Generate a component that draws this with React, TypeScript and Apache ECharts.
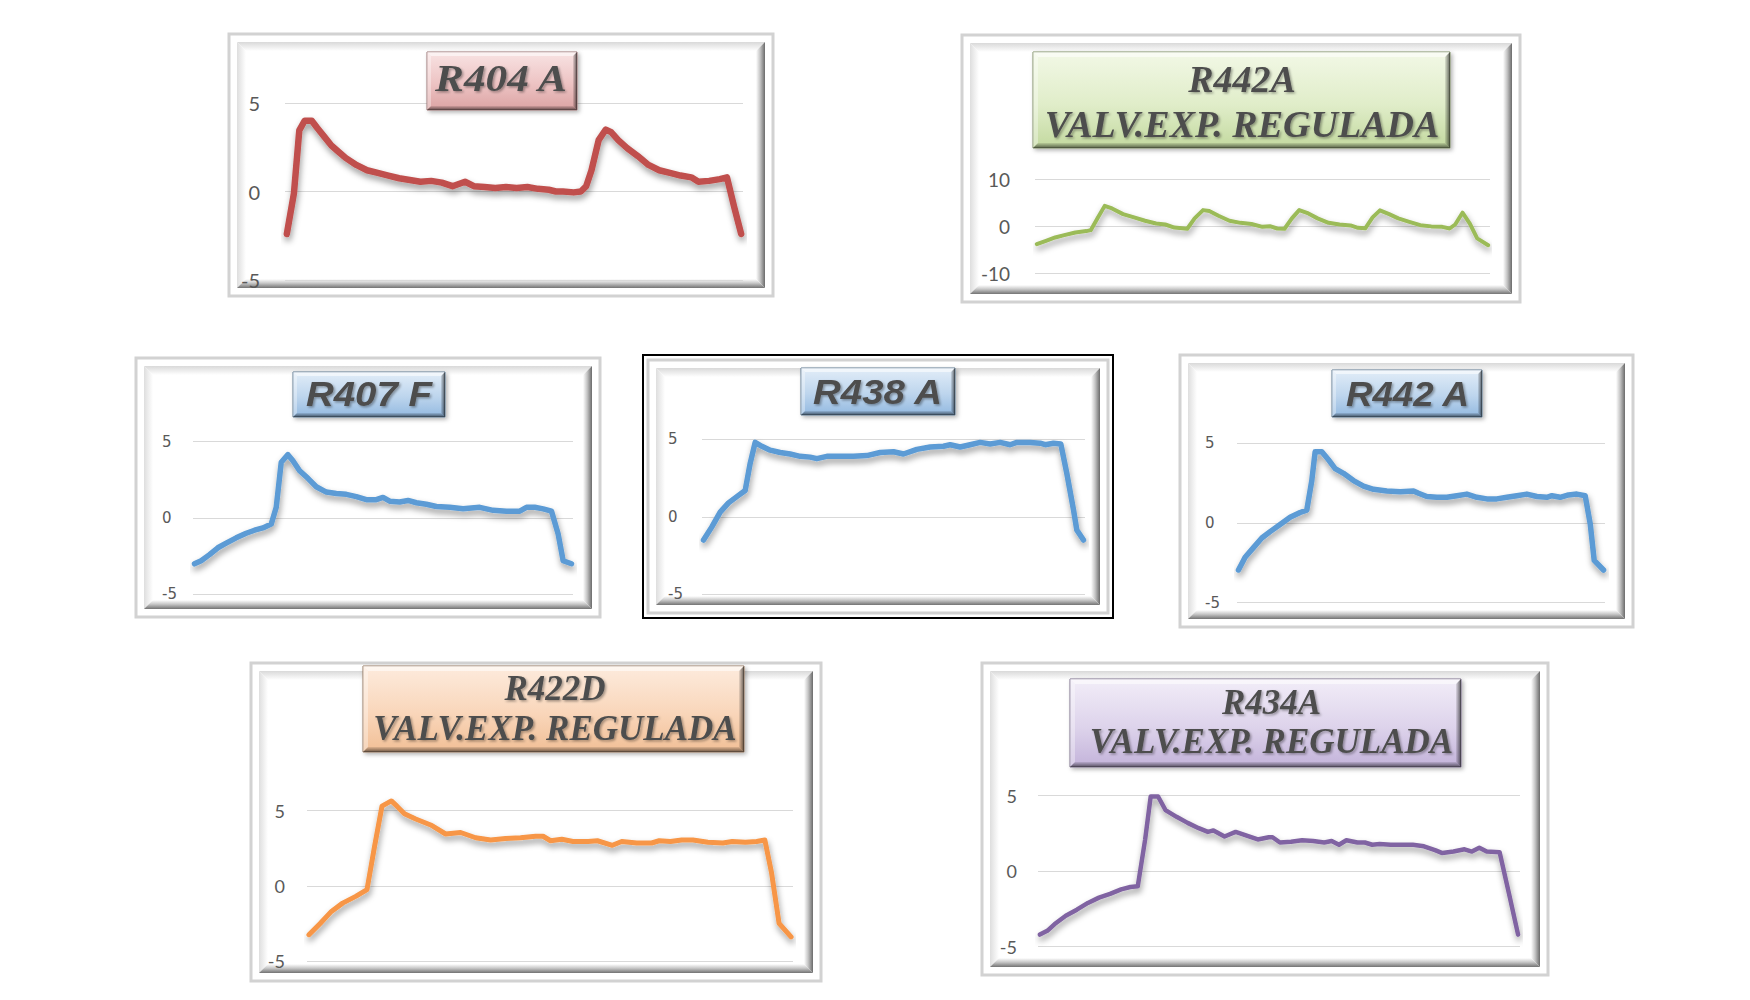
import React, { useEffect, useRef } from "react";
import * as echarts from "echarts";

// ---------- DATA ----------
// Elapsed-time samples and temperature-difference values for each refrigerant test
const r404aTime = [0, 20, 35, 50, 70, 85, 105, 125, 145, 165, 195, 225, 255, 285, 315, 345, 375, 405, 435, 465, 500, 525, 555, 585, 615, 645, 675, 705, 735, 755, 775, 805, 825, 840, 855, 875, 895, 910, 930, 955, 985, 1015, 1045, 1075, 1105, 1135, 1155, 1185, 1215, 1235, 1255, 1275];
const r404aValue = [-2.4, -0.1, 3.45, 4.0, 4.0, 3.6, 3.1, 2.6, 2.25, 1.9, 1.5, 1.2, 1.05, 0.9, 0.75, 0.65, 0.55, 0.6, 0.5, 0.3, 0.55, 0.3, 0.25, 0.2, 0.25, 0.2, 0.25, 0.15, 0.1, 0, 0, -0.05, 0, 0.3, 1.2, 2.9, 3.5, 3.35, 2.9, 2.45, 2.0, 1.5, 1.2, 1.05, 0.9, 0.8, 0.55, 0.6, 0.7, 0.8, -0.85, -2.4];

const r442aValvTime = [0, 25, 50, 75, 105, 135, 147, 165, 185, 205, 235, 265, 295, 325, 350, 375, 410, 430, 453, 470, 495, 525, 555, 585, 615, 635, 655, 675, 695, 715, 740, 765, 795, 825, 855, 875, 895, 915, 935, 960, 985, 1015, 1045, 1075, 1105, 1125, 1140, 1160, 1180, 1200, 1230];
const r442aValvValue = [-3.8, -3.1, -2.4, -1.9, -1.35, -1.05, -0.85, 1.6, 4.3, 3.75, 2.55, 1.85, 1.15, 0.55, 0.35, -0.3, -0.55, 1.65, 3.4, 3.2, 2.2, 1.15, 0.7, 0.45, -0.15, 0, -0.5, -0.55, 1.65, 3.4, 2.7, 1.65, 0.7, 0.35, 0.15, -0.35, -0.45, 1.85, 3.35, 2.55, 1.65, 0.9, 0.2, -0.05, -0.15, -0.5, 0.35, 2.85, 0.55, -2.6, -4.05];

const r407fTime = [0, 20, 45, 70, 95, 125, 155, 180, 205, 230, 245, 260, 280, 295, 315, 340, 365, 395, 425, 455, 485, 515, 545, 565, 585, 615, 640, 665, 695, 725, 765, 805, 855, 895, 935, 975, 995, 1020, 1045, 1070, 1090, 1105, 1130];
const r407fValue = [-3.0, -2.8, -2.4, -1.95, -1.65, -1.3, -1.0, -0.8, -0.65, -0.4, 0.7, 3.65, 4.15, 3.75, 3.1, 2.6, 2.05, 1.7, 1.6, 1.55, 1.4, 1.2, 1.2, 1.35, 1.1, 1.05, 1.15, 1.0, 0.9, 0.75, 0.7, 0.6, 0.7, 0.5, 0.45, 0.45, 0.7, 0.7, 0.6, 0.45, -1.05, -2.8, -3.0];

const r438aTime = [0, 25, 50, 75, 100, 125, 140, 155, 175, 200, 230, 260, 290, 320, 340, 370, 410, 450, 490, 530, 570, 600, 640, 680, 720, 740, 770, 800, 830, 860, 890, 920, 940, 980, 1010, 1025, 1050, 1072, 1090, 1110, 1120, 1140];
const r438aValue = [-1.5, -0.65, 0.3, 0.9, 1.3, 1.7, 3.45, 4.8, 4.55, 4.3, 4.15, 4.05, 3.9, 3.85, 3.75, 3.9, 3.9, 3.9, 3.95, 4.15, 4.2, 4.05, 4.35, 4.5, 4.55, 4.65, 4.5, 4.65, 4.8, 4.7, 4.8, 4.65, 4.8, 4.8, 4.75, 4.65, 4.75, 4.7, 2.8, 0.45, -0.85, -1.5];

const r442aTime = [0, 20, 45, 70, 95, 125, 155, 185, 205, 220, 230, 250, 270, 290, 315, 345, 375, 405, 445, 485, 525, 540, 565, 595, 625, 655, 685, 715, 745, 775, 805, 835, 865, 895, 925, 940, 965, 990, 1015, 1040, 1055, 1067, 1095];
const r442aValue = [-2.95, -2.15, -1.55, -0.95, -0.55, -0.1, 0.35, 0.65, 0.8, 2.65, 4.45, 4.45, 3.95, 3.4, 3.1, 2.65, 2.3, 2.1, 2.0, 1.95, 2.0, 1.85, 1.65, 1.6, 1.6, 1.7, 1.8, 1.6, 1.5, 1.5, 1.6, 1.7, 1.8, 1.65, 1.6, 1.7, 1.6, 1.75, 1.8, 1.7, -0.05, -2.35, -2.95];

const r422dTime = [0, 30, 60, 90, 125, 155, 175, 195, 220, 235, 255, 285, 325, 365, 405, 445, 485, 525, 565, 605, 625, 645, 675, 705, 745, 770, 810, 835, 875, 915, 935, 965, 995, 1025, 1065, 1105, 1130, 1165, 1195, 1217, 1235, 1255, 1287];
const r422dValue = [-3.25, -2.5, -1.7, -1.15, -0.7, -0.25, 2.6, 5.3, 5.65, 5.3, 4.8, 4.45, 4.05, 3.45, 3.55, 3.2, 3.05, 3.15, 3.2, 3.3, 3.3, 3.0, 3.1, 2.95, 2.95, 3.0, 2.7, 2.95, 2.85, 2.85, 3.0, 2.95, 3.05, 3.05, 2.9, 2.85, 2.95, 2.9, 2.95, 3.05, 0.85, -2.5, -3.4];

const r434aTime = [0, 20, 40, 70, 100, 130, 160, 190, 220, 245, 265, 285, 300, 320, 340, 370, 400, 430, 455, 470, 500, 530, 560, 590, 620, 630, 650, 680, 710, 740, 770, 790, 810, 830, 860, 880, 900, 920, 950, 980, 1010, 1040, 1070, 1090, 1120, 1150, 1170, 1190, 1210, 1245, 1270, 1295];
const r434aValue = [-4.2, -3.95, -3.5, -2.95, -2.55, -2.1, -1.75, -1.5, -1.2, -1.05, -1.0, 2.1, 4.95, 4.95, 4.05, 3.6, 3.2, 2.85, 2.6, 2.7, 2.3, 2.6, 2.35, 2.1, 2.25, 2.25, 1.9, 1.95, 2.05, 2.0, 1.9, 2.0, 1.75, 2.05, 1.9, 1.9, 1.75, 1.8, 1.75, 1.75, 1.75, 1.65, 1.4, 1.2, 1.3, 1.45, 1.3, 1.55, 1.3, 1.25, -1.45, -4.2];

// Tick labels of the value axes
const ticksFive = [-5, 0, 5];
const ticksTen = [-10, 0, 10];

// Titles
const titleR404A = "R404 A";
const titleR442AValv = "R442A\nVALV.EXP. REGULADA";
const titleR407F = "R407 F";
const titleR438A = "R438 A";
const titleR442A = "R442 A";
const titleR422D = "R422D\nVALV.EXP. REGULADA";
const titleR434A = "R434A\nVALV.EXP. REGULADA";

// ---------- LAYOUT / STYLE ----------
type Theme = { top: string; mid: string; bottom: string; edge: string };
const themes: Record<string, Theme> = {
  rose: { top: "#f8e3e3", mid: "#edc3c3", bottom: "#dba3a3", edge: "#9a7373" },
  green: { top: "#f2f8e6", mid: "#e0edc9", bottom: "#c3d99f", edge: "#7d8c63" },
  blue: { top: "#e2edf8", mid: "#bdd5ed", bottom: "#93b9e0", edge: "#5d7891" },
  peach: { top: "#fdebdd", mid: "#f9d6ba", bottom: "#f1bf96", edge: "#93775f" },
  lilac: { top: "#f2edf8", mid: "#ddd3eb", bottom: "#c3b3da", edge: "#7b6f8b" },
};

const SERIF = '"Liberation Serif", "Times New Roman", serif';
const SANS = '"Liberation Sans", Arial, sans-serif';

const panels = [
  {
    title: titleR404A, time: r404aTime, values: r404aValue, ticks: ticksFive, color: "#C0504D", lw: 6.5,
    frame: [229, 34, 544, 262], boxed: false, grid: [285, 103, 458, 177],
    box: [427, 52, 150, 58], theme: "rose", bevel: 4,
    tx: 501, ty: 78, tFont: SERIF, tSize: 38, tLH: 40, tScale: 1.14,
    lSize: 20, lFont: "Lato, sans-serif", lAlign: "right", lMargin: 25,
  },
  {
    title: titleR442AValv, time: r442aValvTime, values: r442aValvValue, ticks: ticksTen, color: "#9BBB59", lw: 4,
    frame: [962, 35, 558, 267], boxed: false, grid: [1035, 179, 455, 94.3],
    box: [1033, 52, 417, 96], theme: "green", bevel: 5,
    tx: 1242, ty: 101.5, tFont: SERIF, tSize: 38, tLH: 45, tScale: 1,
    lSize: 19, lFont: "Lato, sans-serif", lAlign: "right", lMargin: 25,
  },
  {
    title: titleR407F, time: r407fTime, values: r407fValue, ticks: ticksFive, color: "#5B9BD5", lw: 5.5,
    frame: [136, 358, 464, 259], boxed: false, grid: [193, 441.7, 380, 152.6],
    box: [293, 372, 152, 45], theme: "blue", bevel: 4,
    tx: 369, ty: 394.5, tFont: SANS, tSize: 35, tLH: 40, tScale: 1.1,
    lSize: 15, lFont: '"DejaVu Sans", sans-serif', lAlign: "left", lMargin: 31,
  },
  {
    title: titleR438A, time: r438aTime, values: r438aValue, ticks: ticksFive, color: "#5B9BD5", lw: 5.5,
    frame: [643, 355, 470, 263], boxed: true, grid: [702, 439.3, 383, 155],
    box: [801, 368, 154, 47], theme: "blue", bevel: 4,
    tx: 877.5, ty: 392.5, tFont: SANS, tSize: 35, tLH: 40, tScale: 1.1,
    lSize: 15, lFont: '"DejaVu Sans", sans-serif', lAlign: "left", lMargin: 34,
  },
  {
    title: titleR442A, time: r442aTime, values: r442aValue, ticks: ticksFive, color: "#5B9BD5", lw: 5.5,
    frame: [1180, 355, 453, 272], boxed: false, grid: [1237, 443, 368, 159.7],
    box: [1332, 370, 150, 47], theme: "blue", bevel: 4,
    tx: 1407.5, ty: 394, tFont: SANS, tSize: 35, tLH: 40, tScale: 1.05,
    lSize: 15, lFont: '"DejaVu Sans", sans-serif', lAlign: "left", lMargin: 32,
  },
  {
    title: titleR422D, time: r422dTime, values: r422dValue, ticks: ticksFive, color: "#F79646", lw: 5,
    frame: [251, 663, 570, 318], boxed: false, grid: [307, 810.7, 486, 150.3],
    box: [363, 666, 381, 86], theme: "peach", bevel: 5,
    tx: 555, ty: 708.5, tFont: SERIF, tSize: 35, tLH: 40, tScale: 1,
    lSize: 18, lFont: "Lato, sans-serif", lAlign: "right", lMargin: 22,
  },
  {
    title: titleR434A, time: r434aTime, values: r434aValue, ticks: ticksFive, color: "#8064A2", lw: 4.5,
    frame: [982, 663, 566, 312], boxed: false, grid: [1038, 795.7, 482, 151],
    box: [1070, 679, 391, 88], theme: "lilac", bevel: 5,
    tx: 1271.5, ty: 722, tFont: SERIF, tSize: 35, tLH: 39, tScale: 1,
    lSize: 18, lFont: "Lato, sans-serif", lAlign: "right", lMargin: 21,
  },
];

const lg = (x0: number, y0: number, x1: number, y1: number, stops: [number, string][]) =>
  new echarts.graphic.LinearGradient(x0, y0, x1, y1, stops.map(([offset, color]) => ({ offset, color })));

function bevelEls(x: number, y: number, w: number, h: number, b: number, fills: any[], z: number) {
  return [
    { type: "polygon", shape: { points: [[x, y], [x + w, y], [x + w - b, y + b], [x + b, y + b]] }, style: { fill: fills[0] }, z, silent: true },
    { type: "polygon", shape: { points: [[x, y], [x + b, y + b], [x + b, y + h - b], [x, y + h]] }, style: { fill: fills[1] }, z, silent: true },
    { type: "polygon", shape: { points: [[x + w, y], [x + w, y + h], [x + w - b, y + h - b], [x + w - b, y + b]] }, style: { fill: fills[2] }, z, silent: true },
    { type: "polygon", shape: { points: [[x, y + h], [x + w, y + h], [x + w - b, y + h - b], [x + b, y + h - b]] }, style: { fill: fills[3] }, z, silent: true },
  ];
}

function frameEls(f: number[], boxed: boolean) {
  let [x, y, w, h] = f;
  const els: any[] = [];
  if (boxed) {
    els.push({ type: "rect", shape: { x, y, width: w, height: h }, style: { fill: "#fff", stroke: "#000", lineWidth: 2 }, z: -40, silent: true });
    x += 5; y += 5; w -= 10; h -= 10;
  }
  els.push({ type: "rect", shape: { x, y, width: w, height: h }, style: { fill: "#fff", stroke: "#d2d2d2", lineWidth: 3 }, z: -39, silent: true });
  const i = 8, b = 9;
  els.push(
    ...bevelEls(x + i, y + i, w - 2 * i, h - 2 * i, b, [
      lg(0, 0, 0, 1, [[0, "#d9d9d9"], [1, "#ffffff"]]),
      lg(0, 0, 1, 0, [[0, "#dedede"], [1, "#ffffff"]]),
      lg(0, 0, 1, 0, [[0, "#ffffff"], [0.45, "#c6c6c6"], [1, "#6b6b6b"]]),
      lg(0, 0, 0, 1, [[0, "#ffffff"], [0.45, "#c9c9c9"], [1, "#737373"]]),
    ], -38)
  );
  return els;
}

function boxEls(bx: number[], t: Theme, b: number) {
  const [x, y, w, h] = bx;
  return [
    {
      type: "rect", shape: { x, y, width: w, height: h }, z: 50, silent: true,
      style: {
        fill: lg(0, 0, 0, 1, [[0, t.top], [0.55, t.mid], [1, t.bottom]]), stroke: t.edge, lineWidth: 1,
        shadowBlur: 4, shadowOffsetX: 2, shadowOffsetY: 2, shadowColor: "rgba(0,0,0,0.3)",
      },
    },
    ...bevelEls(x, y, w, h, b, [
      "rgba(255,255,255,0.55)",
      "rgba(255,255,255,0.35)",
      lg(0, 0, 1, 0, [[0, "rgba(0,0,0,0.08)"], [1, "rgba(0,0,0,0.6)"]]),
      lg(0, 0, 0, 1, [[0, "rgba(0,0,0,0.08)"], [1, "rgba(0,0,0,0.55)"]]),
    ], 51),
  ];
}

function titleEl(p: any) {
  return {
    type: "text", x: p.tx, y: p.ty, scaleX: p.tScale, z: 52, silent: true,
    style: {
      text: p.title, x: 0, y: 0,
      align: "center", verticalAlign: "middle", textAlign: "center", textVerticalAlign: "middle",
      fontFamily: p.tFont, fontWeight: "bold", fontStyle: "italic", fontSize: p.tSize, lineHeight: p.tLH,
      fill: "#4d4d4d",
      textShadowColor: "rgba(0,0,0,0.35)", textShadowBlur: 2, textShadowOffsetX: 1.5, textShadowOffsetY: 1.5,
    },
  };
}

export default function App() {
  const ref = useRef<HTMLDivElement>(null);

  useEffect(() => {
    if (!ref.current) return;
    const chart = echarts.init(ref.current, null, { renderer: "svg" });

    const graphicEls: any[] = [];
    panels.forEach((p) => {
      graphicEls.push(...frameEls(p.frame, p.boxed));
    });
    panels.forEach((p) => {
      graphicEls.push(...boxEls(p.box, themes[p.theme], p.bevel));
      graphicEls.push(titleEl(p));
    });

    const option: any = {
      animation: false,
      backgroundColor: "#ffffff",
      grid: panels.map((p) => ({ left: p.grid[0], top: p.grid[1], width: p.grid[2], height: p.grid[3], containLabel: false })),
      xAxis: panels.map((p, i) => {
        const first = p.time[0];
        const last = p.time[p.time.length - 1];
        const pad = (last - first) * 0.004;
        return { type: "value", gridIndex: i, min: first - pad, max: last + pad, show: false };
      }),
      yAxis: panels.map((p, i) => ({
        type: "value", gridIndex: i,
        min: p.ticks[0], max: p.ticks[p.ticks.length - 1], interval: p.ticks[1] - p.ticks[0],
        axisLine: { show: false }, axisTick: { show: false },
        splitLine: { show: true, lineStyle: { color: "#d9d9d9", width: 1 } },
        axisLabel: { color: "#595959", fontSize: p.lSize, fontFamily: p.lFont, align: p.lAlign, margin: p.lMargin },
      })),
      series: panels.map((p, i) => ({
        type: "line", name: p.title.split("\n")[0], xAxisIndex: i, yAxisIndex: i,
        data: p.time.map((t, j) => [t, p.values[j]]),
        symbol: "none", showSymbol: false, smooth: false, silent: true, z: 3, clip: false,
        lineStyle: {
          color: p.color, width: p.lw, cap: "round", join: "round",
          shadowColor: "rgba(0,0,0,0.4)", shadowBlur: 6, shadowOffsetX: 1, shadowOffsetY: 4,
        },
        itemStyle: { color: p.color },
      })),
      graphic: { elements: graphicEls },
    };

    chart.setOption(option);
    return () => chart.dispose();
  }, []);

  return (
    <div
      ref={ref}
      style={{ position: "fixed", left: 0, top: 0, width: 1750, height: 1000, background: "#fff" }}
    />
  );
}
